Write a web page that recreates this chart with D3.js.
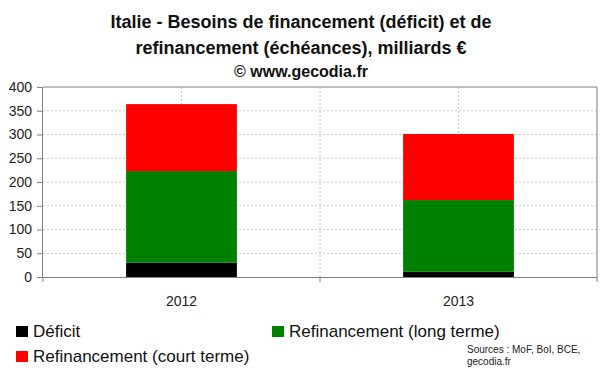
<!DOCTYPE html>
<html>
<head>
<meta charset="utf-8">
<script src="https://cdn.jsdelivr.net/npm/d3@7"></script>
<style>
  body { margin: 0; background: #fff; }
  svg { font-family: "Liberation Sans", Arial, sans-serif; }
  .grid line { stroke: #c8c8c8; stroke-dasharray: 2,2; }
  .axis path, .axis line { stroke: #808080; }
  .axis text { fill: #222; font-size: 14px; }
</style>
</head>
<body>
<svg width="600" height="372"></svg>
<script>
// data (milliards €)
let years = ["2012", "2013"];
let deficit = [30, 11];
let refiLong = [193, 151];
let refiCourt = [141, 139];
let seriesNames = ["Déficit", "Refinancement (long terme)", "Refinancement (court terme)"];
let seriesColors = ["#000000", "#008000", "#ff0000"];
let yTicks = [0, 50, 100, 150, 200, 250, 300, 350, 400];

let svg = d3.select("svg");

let margin = { top: 87, right: 3, bottom: 95, left: 43 };
let width = 600, height = 372;
let plotLeft = margin.left, plotRight = width - margin.right;
let plotTop = margin.top, plotBottom = height - margin.bottom;

// titles
let titles = [
  { text: "Italie - Besoins de financement (déficit) et de", y: 28, size: 18 },
  { text: "refinancement (échéances), milliards €", y: 54, size: 18 },
  { text: "© www.gecodia.fr", y: 77, size: 16 }
];
svg.selectAll("text.title")
  .data(titles)
  .enter().append("text")
  .attr("class", "title")
  .attr("x", 301)
  .attr("y", d => d.y)
  .attr("text-anchor", "middle")
  .attr("font-weight", "bold")
  .attr("font-size", d => d.size)
  .attr("fill", "#111")
  .text(d => d.text);

let y = d3.scaleLinear().domain([0, 400]).range([plotBottom, plotTop]);
let x = d3.scaleBand().domain(years).range([plotLeft, plotRight])
  .paddingInner(0.6).paddingOuter(0.3);

// category centers and boundaries (for vertical grid and ticks)
let centers = years.map(d => x(d) + x.bandwidth() / 2);
let bounds = [plotLeft, (centers[0] + centers[1]) / 2, plotRight];

// grid
let grid = svg.append("g").attr("class", "grid");
grid.selectAll("line.h")
  .data(yTicks.filter(t => t > 0 && t < 400))
  .enter().append("line")
  .attr("class", "h")
  .attr("x1", plotLeft).attr("x2", plotRight)
  .attr("y1", d => y(d)).attr("y2", d => y(d));
grid.selectAll("line.v")
  .data(centers.concat([bounds[1]]))
  .enter().append("line")
  .attr("class", "v")
  .attr("x1", d => d).attr("x2", d => d)
  .attr("y1", plotTop).attr("y2", plotBottom);

// stacked bars
let table = years.map((yr, i) => ({ year: yr, d: deficit[i], l: refiLong[i], c: refiCourt[i] }));
let layers = d3.stack().keys(["d", "l", "c"])(table);

svg.append("g").selectAll("g")
  .data(layers)
  .enter().append("g")
  .attr("fill", (d, i) => seriesColors[i])
  .selectAll("rect")
  .data(d => d)
  .enter().append("rect")
  .attr("x", d => x(d.data.year))
  .attr("width", x.bandwidth())
  .attr("y", d => y(d[1]))
  .attr("height", d => y(d[0]) - y(d[1]));

// frame top and right
svg.append("path")
  .attr("d", `M${plotLeft},${plotTop}H${plotRight}V${plotBottom}`)
  .attr("fill", "none")
  .attr("stroke", "#808080");

// y axis
let yAxis = d3.axisLeft(y).tickValues(yTicks).tickSize(6).tickPadding(5);
svg.append("g")
  .attr("class", "axis")
  .attr("transform", `translate(${plotLeft},0)`)
  .call(yAxis)
  .call(g => g.select(".domain").attr("d", `M-0.5,${plotTop}V${plotBottom}`));

// x axis: boundary ticks + labels under the bars
let xb = svg.append("g").attr("class", "axis");
xb.append("line")
  .attr("x1", plotLeft).attr("x2", plotRight)
  .attr("y1", plotBottom + 0.5).attr("y2", plotBottom + 0.5);
xb.selectAll("line.tk")
  .data(bounds)
  .enter().append("line")
  .attr("class", "tk")
  .attr("x1", d => d).attr("x2", d => d)
  .attr("y1", plotBottom).attr("y2", plotBottom + 5);
xb.selectAll("text")
  .data(years)
  .enter().append("text")
  .attr("x", d => x(d) + x.bandwidth() / 2)
  .attr("y", 306)
  .attr("text-anchor", "middle")
  .text(d => d);

// legend
let legendPos = [
  { x: 16, y: 337 },
  { x: 272, y: 337 },
  { x: 16, y: 362 }
];
let legend = svg.append("g").selectAll("g")
  .data(seriesNames)
  .enter().append("g")
  .attr("transform", (d, i) => `translate(${legendPos[i].x},${legendPos[i].y})`);
legend.append("rect")
  .attr("x", 0).attr("y", -11)
  .attr("width", 12).attr("height", 11)
  .attr("fill", (d, i) => seriesColors[i]);
legend.append("text")
  .attr("x", 17)
  .attr("y", 0)
  .attr("font-size", 17)
  .attr("fill", "#111")
  .text(d => d);

// sources
let src = svg.append("text")
  .attr("font-size", 10)
  .attr("fill", "#222");
src.append("tspan").attr("x", 467).attr("y", 353).text("Sources : MoF, BoI, BCE,");
src.append("tspan").attr("x", 467).attr("y", 365).text("gecodia.fr");
</script>
</body>
</html>
